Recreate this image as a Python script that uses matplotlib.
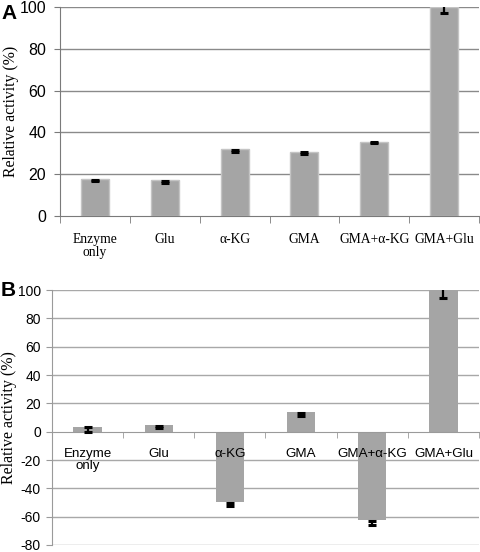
import matplotlib
matplotlib.use("Agg")
import matplotlib.pyplot as plt
import numpy as np

plt.rcParams["axes.unicode_minus"] = False

categories = ["Enzyme\nonly", "Glu", "α-KG", "GMA", "GMA+α-KG", "GMA+Glu"]

# Panel A
a_values = [17.5, 17.0, 32.0, 30.6, 35.3, 100.0]
a_err_center = [17.0, 16.3, 31.2, 30.1, 35.0, 100.0]
a_err = [0.4, 0.4, 0.5, 0.3, 0.3, 3.0]
a_yticks = [0, 20, 40, 60, 80, 100]

# Panel B
b_values = [3.6, 4.8, -49.8, 14.0, -62.0, 100.0]
b_err_center = [1.5, 3.0, -51.5, 12.0, -64.5, 100.0]
b_err = [1.5, 0.7, 0.8, 1.2, 1.5, 5.5]
b_yticks = [-80, -60, -40, -20, 0, 20, 40, 60, 80, 100]

W, H = 480, 552
fig = plt.figure(figsize=(W / 100, H / 100), dpi=100)

serif = "Liberation Serif"
sans = "Liberation Sans"
bar_color = "#a5a5a5"
x = np.arange(len(categories))

# ---------- Panel A ----------
axA = fig.add_axes([60 / W, 1 - 216 / H, 419 / W, 209 / H])
for yv in a_yticks[1:]:
    axA.axhline(yv, color="#8a8a8a", linewidth=1, zorder=0.5)
axA.bar(x, a_values, width=0.4, color=bar_color, edgecolor="#c4c4c4", linewidth=1, zorder=2)
axA.errorbar(x, a_err_center, yerr=a_err, fmt="none", ecolor="black",
             elinewidth=1.6, capsize=3, capthick=2.2, zorder=3)
axA.set_xlim(-0.5, 5.5)
axA.set_ylim(0, 100)
axA.set_yticks(a_yticks)
for s in ["top", "right"]:
    axA.spines[s].set_visible(False)
axA.spines["left"].set_color("#7a7a7a")
axA.spines["bottom"].set_color("#7a7a7a")
axA.set_xticks(x)
axA.set_xticklabels(categories, fontfamily=serif, fontsize=9.8, linespacing=1.08)
axA.tick_params(axis="x", which="major", length=0, pad=12)
axA.set_xticks(np.arange(-0.5, 6, 1), minor=True)
axA.tick_params(axis="x", which="minor", length=5, color="#7a7a7a", direction="out")
axA.tick_params(axis="y", length=4, color="#7a7a7a", labelsize=11.5, pad=6)
for lab in axA.get_yticklabels():
    lab.set_fontfamily(sans)
axA.set_ylabel("Relative activity (%)", fontfamily=serif, fontsize=11.3)
axA.yaxis.set_label_coords((19 - 60) / 419, 0.5)
fig.text(1 / W, 1 - 4 / H, "A", fontfamily=sans, fontweight="bold", fontsize=15, va="top", ha="left")

# ---------- Panel B ----------
axB = fig.add_axes([52 / W, 1 - 545 / H, 427 / W, 255 / H])
for yv in b_yticks:
    if yv != 0:
        axB.axhline(yv, color="#a8a8a8", linewidth=1, zorder=0.5)
axB.bar(x, b_values, width=0.4, color=bar_color, edgecolor="none", zorder=2)
axB.errorbar(x, b_err_center, yerr=b_err, fmt="none", ecolor="black",
             elinewidth=1.6, capsize=3, capthick=2.2, zorder=3)
axB.set_xlim(-0.5, 5.5)
axB.set_ylim(-80, 100)
axB.set_yticks(b_yticks)
for s in ["top", "right"]:
    axB.spines[s].set_visible(False)
axB.spines["left"].set_color("#9a9a9a")
axB.spines["bottom"].set_color("#9a9a9a")
axB.spines["bottom"].set_position(("data", 0))
axB.set_xticks(x)
axB.set_xticklabels(categories, fontfamily=sans, fontsize=9.6, linespacing=1.0)
axB.tick_params(axis="x", which="major", length=0, pad=12)
axB.set_xticks(np.arange(-0.5, 6, 1), minor=True)
axB.tick_params(axis="x", which="minor", length=4, color="#9a9a9a", direction="out")
axB.tick_params(axis="y", length=4, color="#9a9a9a", labelsize=10, pad=4)
for lab in axB.get_yticklabels():
    lab.set_fontfamily(sans)
axB.set_axisbelow(False)
axB.set_ylabel("Relative activity (%)", fontfamily=serif, fontsize=11.5)
axB.yaxis.set_label_coords((17 - 52) / 427, 0.5)
fig.text(1 / W, 1 - 281 / H, "B", fontfamily=sans, fontweight="bold", fontsize=15, va="top", ha="left")

fig.savefig("out.png", dpi=100)
